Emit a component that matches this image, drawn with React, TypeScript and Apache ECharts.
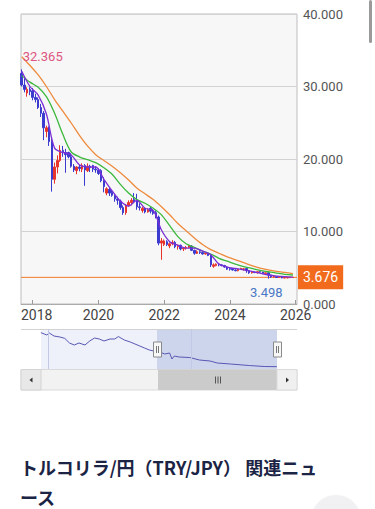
import { useEffect, useRef } from 'react';
import * as echarts from 'echarts';

// ---- main chart: monthly candles (TRY/JPY) ----
const months = [
  '2017-09', '2017-10', '2017-11', '2017-12',
  '2018-01', '2018-02', '2018-03', '2018-04', '2018-05', '2018-06', '2018-07', '2018-08', '2018-09', '2018-10', '2018-11', '2018-12',
  '2019-01', '2019-02', '2019-03', '2019-04', '2019-05', '2019-06', '2019-07', '2019-08', '2019-09', '2019-10', '2019-11', '2019-12',
  '2020-01', '2020-02', '2020-03', '2020-04', '2020-05', '2020-06', '2020-07', '2020-08', '2020-09', '2020-10', '2020-11', '2020-12',
  '2021-01', '2021-02', '2021-03', '2021-04', '2021-05', '2021-06', '2021-07', '2021-08', '2021-09', '2021-10', '2021-11', '2021-12',
  '2022-01', '2022-02', '2022-03', '2022-04', '2022-05', '2022-06', '2022-07', '2022-08', '2022-09', '2022-10', '2022-11', '2022-12',
  '2023-01', '2023-02', '2023-03', '2023-04', '2023-05', '2023-06', '2023-07', '2023-08', '2023-09', '2023-10', '2023-11', '2023-12',
  '2024-01', '2024-02', '2024-03', '2024-04', '2024-05', '2024-06', '2024-07', '2024-08', '2024-09', '2024-10', '2024-11', '2024-12',
  '2025-01', '2025-02', '2025-03', '2025-04', '2025-05', '2025-06', '2025-07', '2025-08', '2025-09', '2025-10', '2025-11', '2025-12',
];
const opens = [
  31.8, 30.2, 29.1, 29.6,
  29.4, 28.5, 28.2, 27.1, 26.3, 23.8, 24.3, 22.4, 17.2, 18.9, 19.8, 21.2,
  20.9, 20.9, 20.3, 19.0, 18.4, 18.9, 18.6, 19.1, 18.4, 19.0, 19.1, 18.6,
  18.5, 18.4, 17.0, 15.3, 15.8, 15.4, 15.0, 14.5, 14.2, 13.3, 12.6, 13.6,
  14.0, 14.4, 14.2, 13.4, 12.9, 13.1, 12.7, 13.2, 12.8, 12.6, 12.0, 8.4,
  8.2, 8.6, 8.0, 8.3, 8.5, 7.9, 8.1, 7.6, 7.7, 7.8, 8.0, 7.4,
  7.0, 7.2, 7.1, 6.9, 7.0, 6.7, 5.2, 5.3, 5.5, 5.4, 5.3, 5.1,
  4.9, 4.9, 4.7, 4.6, 4.8, 4.8, 4.9, 4.6, 4.3, 4.4, 4.3, 4.45,
  4.4, 4.2, 4.3, 4.0, 3.75, 3.8, 3.65, 3.7, 3.6, 3.6, 3.64, 3.66,
];
const closes = [
  30.2, 29.6, 29.6, 29.3,
  28.5, 28.2, 27.1, 26.3, 24.3, 24.3, 22.4, 17.2, 18.9, 19.8, 21.2, 21.0,
  20.6, 20.3, 19.0, 18.5, 18.9, 18.7, 19.1, 18.5, 19.0, 18.8, 18.6, 18.5,
  18.0, 17.0, 16.2, 15.9, 15.3, 15.0, 14.5, 14.3, 13.3, 12.6, 13.6, 14.0,
  14.3, 14.2, 13.4, 13.3, 13.2, 12.7, 13.0, 12.8, 12.5, 12.0, 8.4, 8.7,
  8.7, 8.2, 8.3, 8.5, 7.9, 8.1, 7.6, 7.7, 7.8, 8.0, 7.4, 7.0,
  7.2, 7.1, 6.9, 7.0, 6.7, 5.4, 5.4, 5.5, 5.4, 5.3, 5.1, 4.8,
  4.8, 4.7, 4.6, 4.8, 4.9, 4.85, 4.6, 4.3, 4.4, 4.35, 4.45, 4.4,
  4.2, 4.3, 4.0, 3.75, 3.8, 3.65, 3.7, 3.6, 3.62, 3.65, 3.68, 3.676,
];
const lows = [
  30.0, 29.2, 28.6, 28.8,
  28.1, 27.8, 26.9, 25.8, 22.6, 23.0, 21.8, 15.5, 16.6, 18.0, 19.6, 20.3,
  18.1, 20.1, 18.8, 18.2, 17.9, 18.3, 18.2, 16.3, 18.2, 18.2, 18.2, 18.1,
  17.8, 16.8, 15.4, 15.0, 14.9, 14.8, 14.1, 13.7, 13.0, 12.3, 12.3, 13.4,
  13.6, 13.9, 13.0, 12.9, 12.6, 12.5, 12.6, 12.5, 12.3, 11.8, 8.1, 6.1,
  8.0, 8.0, 7.7, 8.1, 7.7, 7.5, 7.4, 7.3, 7.5, 7.7, 7.3, 6.8,
  6.9, 6.9, 6.8, 6.8, 6.6, 5.1, 5.0, 5.2, 5.2, 5.2, 5.0, 4.7,
  4.6, 4.6, 4.5, 4.5, 4.7, 4.6, 4.3, 4.15, 4.2, 4.25, 4.2, 4.3,
  4.15, 4.1, 3.498, 3.6, 3.65, 3.6, 3.6, 3.55, 3.55, 3.55, 3.6, 3.64,
];
const highs = [
  32.365, 31.2, 29.9, 29.9,
  29.8, 29.0, 28.5, 27.6, 26.6, 24.6, 24.5, 22.8, 19.5, 20.5, 21.9, 21.8,
  21.4, 21.0, 20.8, 19.3, 19.0, 19.2, 19.4, 19.3, 19.4, 19.2, 19.2, 19.0,
  18.7, 18.6, 17.5, 16.1, 16.0, 15.7, 15.2, 14.8, 14.4, 13.6, 13.8, 14.3,
  14.6, 15.3, 15.2, 13.9, 13.4, 13.3, 13.2, 13.4, 13.1, 12.9, 12.2, 9.1,
  8.9, 8.8, 8.5, 8.8, 8.7, 8.2, 8.2, 7.8, 8.0, 8.1, 8.1, 7.5,
  7.4, 7.4, 7.2, 7.1, 7.1, 6.8, 5.6, 5.6, 5.6, 5.5, 5.4, 5.2,
  5.0, 4.95, 4.8, 4.85, 5.0, 4.95, 4.95, 4.7, 4.5, 4.45, 4.5, 4.55,
  4.45, 4.35, 4.35, 4.05, 3.9, 3.85, 3.8, 3.75, 3.7, 3.72, 3.72, 3.7,
];

// ---- moving averages read at quarterly points ----
const maMonths = [
  '2017-09', '2017-12', '2018-03', '2018-06', '2018-09', '2018-12', '2019-03', '2019-06', '2019-09', '2019-12',
  '2020-03', '2020-06', '2020-09', '2020-12', '2021-03', '2021-06', '2021-09', '2021-12', '2022-03', '2022-06',
  '2022-09', '2022-12', '2023-03', '2023-06', '2023-09', '2023-12', '2024-03', '2024-06', '2024-09', '2024-12',
  '2025-03', '2025-06', '2025-09', '2025-12',
];
const maShort = [
  32.1, 30.0, 28.8, 26.2, 21.5, 20.9, 20.6, 19.2, 18.9, 18.9,
  17.2, 15.6, 14.2, 13.5, 14.3, 13.2, 12.9, 10.2, 8.6, 8.1,
  7.7, 7.7, 7.3, 6.8, 5.5, 5.1, 4.9, 4.7, 4.5, 4.25,
  4.0, 3.85, 3.77, 3.72,
];
const maMid = [
  31.5, 30.6, 29.9, 28.6, 26.3, 23.4, 21.0, 20.3, 19.9, 19.5,
  18.8, 17.9, 16.5, 15.3, 14.4, 13.9, 13.2, 12.3, 10.8, 9.3,
  8.3, 7.8, 7.3, 6.9, 6.3, 5.9, 5.5, 5.15, 4.9, 4.65,
  4.45, 4.25, 4.1, 4.0,
];
const maLong = [
  34.1, 32.9, 31.6, 30.0, 28.2, 26.6, 25.0, 23.3, 21.8, 20.6,
  19.8, 19.0, 18.1, 17.1, 16.0, 15.2, 14.4, 13.4, 12.3, 11.1,
  10.1, 9.1, 8.2, 7.5, 7.0, 6.5, 6.1, 5.7, 5.3, 4.95,
  4.7, 4.5, 4.35, 4.2,
];

// ---- navigator (long history) ----
const navMonths = [
  '2007-07', '2007-12', '2008-02', '2008-06', '2008-11', '2009-03', '2009-07', '2009-11', '2010-03', '2010-08',
  '2010-12', '2011-04', '2011-08', '2011-12', '2012-05', '2012-09', '2012-12', '2013-05', '2013-10', '2014-02',
  '2014-06', '2014-10', '2015-02', '2015-07', '2015-12', '2016-03', '2016-07', '2016-09', '2016-11', '2017-03',
  '2017-12', '2018-08', '2019-05', '2019-11', '2020-10', '2022-02', '2023-03', '2024-01',
];
const navValues = [
  54.5, 51, 54, 49.5, 48, 46, 39, 36, 39, 36,
  42, 46.5, 45, 42, 45, 45, 48.7, 43.5, 40.5, 37.5,
  34.5, 31.5, 28.5, 26.5, 24.5, 22.5, 24, 15, 19.5, 18,
  17.2, 13.5, 12, 9, 7.5, 5.2, 3.7, 3.5,
];
const navGuides = ['2008-01', '2018-01'];

const lastPrice = 3.676;
const maxPrice = 32.365;
const maxMonth = '2017-09';
const minPrice = 3.498;
const minMonth = '2025-03';
const xMin = 2017.644;
const xMax = 2026.04;
const navXMin = 2006.11;
const navXMax = 2025.41;

const titleLine1 = 'トルコリラ/円（TRY/JPY） 関連ニュ';
const titleLine2 = 'ース';

const FONT = 'Roboto, "Noto Sans", sans-serif';
const UP = '#e8352c';
const DOWN = '#3b3bd0';
const ORANGE = '#f07a2a';

function ym(s: string): number {
  const [y, m] = s.split('-').map(Number);
  return y + (m - 1) / 12;
}

function buildOption(): any {
  const candles = months.map((m, i) => [ym(m), opens[i], closes[i], lows[i], highs[i]]);
  const maSeries = (vals: number[]) => maMonths.map((m, i) => [ym(m), vals[i]]);
  const nav = navMonths.map((m, i) => [ym(m), navValues[i]]);

  const graphics: any[] = [
    // top-right page scroll indicator
    { type: 'rect', shape: { x: 369, y: 0, width: 3, height: 43, r: 1.5 }, style: { fill: '#9a9a9a' } },
    // navigator backgrounds
    { type: 'rect', shape: { x: 41, y: 329.5, width: 116, height: 39.5 }, style: { fill: '#eef0fa' }, z: -1 },
    { type: 'rect', shape: { x: 157, y: 329.5, width: 120, height: 39.5 }, style: { fill: '#cdd5ec' }, z: -1 },
    { type: 'line', shape: { x1: 21, y1: 329.5, x2: 297, y2: 329.5 }, style: { stroke: '#d2d2d2', lineWidth: 1 } },
    // handles
    { type: 'rect', shape: { x: 153.5, y: 342, width: 8, height: 15 }, style: { fill: '#f7f7f7', stroke: '#8a8a8a', lineWidth: 1 }, z: 10 },
    { type: 'line', shape: { x1: 156.5, y1: 346, x2: 156.5, y2: 353 }, style: { stroke: '#777', lineWidth: 1 }, z: 11 },
    { type: 'line', shape: { x1: 158.5, y1: 346, x2: 158.5, y2: 353 }, style: { stroke: '#777', lineWidth: 1 }, z: 11 },
    { type: 'rect', shape: { x: 273.5, y: 342, width: 8, height: 15 }, style: { fill: '#f7f7f7', stroke: '#8a8a8a', lineWidth: 1 }, z: 10 },
    { type: 'line', shape: { x1: 276.5, y1: 346, x2: 276.5, y2: 353 }, style: { stroke: '#777', lineWidth: 1 }, z: 11 },
    { type: 'line', shape: { x1: 278.5, y1: 346, x2: 278.5, y2: 353 }, style: { stroke: '#777', lineWidth: 1 }, z: 11 },
    // scrollbar
    { type: 'rect', shape: { x: 21, y: 369.5, width: 276, height: 20.5 }, style: { fill: '#f2f2f2', stroke: '#dadada', lineWidth: 1 } },
    { type: 'rect', shape: { x: 21, y: 369.5, width: 20, height: 20.5 }, style: { fill: '#e8e8e8', stroke: '#d4d4d4', lineWidth: 1 } },
    { type: 'polygon', shape: { points: [[29.5, 380], [32.5, 377.5], [32.5, 382.5]] }, style: { fill: '#333' } },
    { type: 'rect', shape: { x: 158, y: 369.5, width: 119, height: 20.5 }, style: { fill: '#cbcbcb' } },
    { type: 'line', shape: { x1: 215.5, y1: 376.5, x2: 215.5, y2: 383.5 }, style: { stroke: '#555', lineWidth: 1 } },
    { type: 'line', shape: { x1: 218, y1: 376.5, x2: 218, y2: 383.5 }, style: { stroke: '#555', lineWidth: 1 } },
    { type: 'line', shape: { x1: 220.5, y1: 376.5, x2: 220.5, y2: 383.5 }, style: { stroke: '#555', lineWidth: 1 } },
    { type: 'rect', shape: { x: 277, y: 369.5, width: 20, height: 20.5 }, style: { fill: '#f0f0f0', stroke: '#dadada', lineWidth: 1 } },
    { type: 'polygon', shape: { points: [[286, 377.5], [289, 380], [286, 382.5]] }, style: { fill: '#333' } },
    // decorations at page bottom (under the title)
    { type: 'circle', shape: { cx: 336, cy: 520, r: 25 }, style: { fill: '#f1f1f3' }, z: -2 },
    { type: 'circle', shape: { cx: 41, cy: 516, r: 7 }, style: { fill: '#2b2b2b' }, z: -2 },
    // title
    {
      type: 'text', x: 20, y: 467, z: 5,
      style: { text: titleLine1, font: 'bold 18px "Noto Sans CJK JP"', fill: '#1b2444', verticalAlign: 'middle', align: 'left' },
    },
    {
      type: 'text', x: 20, y: 497, z: 5,
      style: { text: titleLine2, font: 'bold 18px "Noto Sans CJK JP"', fill: '#1b2444', verticalAlign: 'middle', align: 'left' },
    },
  ];

  return {
    animation: false,
    backgroundColor: '#ffffff',
    textStyle: { fontFamily: FONT },
    grid: [
      { left: 21, top: 14, width: 276, height: 290, show: true, backgroundColor: '#f7f7f7', borderColor: '#bdbdbd', borderWidth: 1 },
      { left: 21, top: 329, width: 276, height: 40, show: false },
    ],
    xAxis: [
      {
        type: 'value', gridIndex: 0, min: xMin, max: xMax, splitNumber: 4,
        axisLine: { show: true, lineStyle: { color: '#aaaaaa' } },
        axisTick: { show: true, inside: true, length: 4, lineStyle: { color: '#999' } },
        splitLine: { show: false },
        axisLabel: {
          show: true, showMinLabel: false, showMaxLabel: false, margin: 4,
          color: '#444', fontSize: 14, fontFamily: FONT,
          formatter: (v: number) => {
            const r = Math.round(v);
            if (Math.abs(v - r) > 0.01) return '';
            return r === 2018 ? '{s|2018}' : String(r);
          },
          rich: { s: { padding: [0, 0, 0, 8], color: '#444', fontSize: 14, fontFamily: FONT } },
        },
      },
      { type: 'value', gridIndex: 1, min: navXMin, max: navXMax, show: false },
    ],
    yAxis: [
      {
        type: 'value', gridIndex: 0, position: 'right', min: 0, max: 40, interval: 10,
        axisLine: { show: false }, axisTick: { show: false },
        splitLine: { show: true, lineStyle: { color: '#d3d3d3', width: 1 } },
        axisLabel: { margin: 6, color: '#555', fontSize: 13, fontFamily: FONT, formatter: (v: number) => v.toFixed(3) },
      },
      { type: 'value', gridIndex: 1, min: 0, max: 60, show: false },
    ],
    series: [
      {
        type: 'line', name: 'current', xAxisIndex: 0, yAxisIndex: 0,
        data: [[xMin, lastPrice], [xMax, lastPrice]],
        showSymbol: false, silent: true, z: 1,
        lineStyle: { color: ORANGE, width: 1, type: 'solid' }, itemStyle: { color: ORANGE },
        endLabel: {
          show: true, distance: 1, formatter: () => lastPrice.toFixed(3),
          color: '#ffffff', backgroundColor: '#f26b1d', padding: [5, 5, 5, 5], fontSize: 14, fontFamily: FONT,
        },
      },
      {
        type: 'candlestick', name: 'TRY/JPY', xAxisIndex: 0, yAxisIndex: 0,
        data: candles, barWidth: 2,
        itemStyle: { color: UP, color0: DOWN, borderColor: UP, borderColor0: DOWN, borderWidth: 1 },
        z: 2,
        markPoint: {
          symbol: 'circle', symbolSize: 1, silent: true,
          itemStyle: { color: 'rgba(0,0,0,0)' },
          label: { show: true, position: 'inside', fontSize: 13, fontFamily: FONT },
          data: [
            { coord: [ym(maxMonth), maxPrice], label: { formatter: maxPrice.toFixed(3), color: '#df5580', offset: [21, -12.5] } },
            { coord: [ym(minMonth), minPrice], label: { formatter: minPrice.toFixed(3), color: '#4a78c6', offset: [-2, 14] } },
          ],
        },
      },
      {
        type: 'line', name: 'MA long', xAxisIndex: 0, yAxisIndex: 0, data: maSeries(maLong),
        showSymbol: false, smooth: 0.3, lineStyle: { color: '#ee8a3c', width: 1.3 }, itemStyle: { color: '#ee8a3c' }, z: 3,
      },
      {
        type: 'line', name: 'MA mid', xAxisIndex: 0, yAxisIndex: 0, data: maSeries(maMid),
        showSymbol: false, smooth: 0.3, lineStyle: { color: '#3cb83c', width: 1.3 }, itemStyle: { color: '#3cb83c' }, z: 4,
      },
      {
        type: 'line', name: 'MA short', xAxisIndex: 0, yAxisIndex: 0, data: maSeries(maShort),
        showSymbol: false, smooth: 0.3, lineStyle: { color: '#7b2fd6', width: 1.3 }, itemStyle: { color: '#7b2fd6' }, z: 5,
      },
      {
        type: 'line', name: 'navigator', xAxisIndex: 1, yAxisIndex: 1, data: nav,
        showSymbol: false, lineStyle: { color: '#5858b4', width: 1 }, itemStyle: { color: '#5858b4' }, z: 3,
        markLine: {
          symbol: ['none', 'none'], silent: true, label: { show: false },
          lineStyle: { color: '#c3c9e4', width: 1, type: 'solid' },
          data: navGuides.map((g) => ({ xAxis: ym(g) })),
        },
      },
    ],
    graphic: graphics,
  };
}

export default function App() {
  const ref = useRef<HTMLDivElement>(null);
  useEffect(() => {
    if (!ref.current) return;
    const chart = echarts.init(ref.current, null, { renderer: 'svg' });
    chart.setOption(buildOption());
    return () => chart.dispose();
  }, []);
  return (
    <div
      ref={ref}
      style={{ position: 'fixed', left: 0, top: 0, width: 375, height: 509, background: '#ffffff' }}
    />
  );
}
